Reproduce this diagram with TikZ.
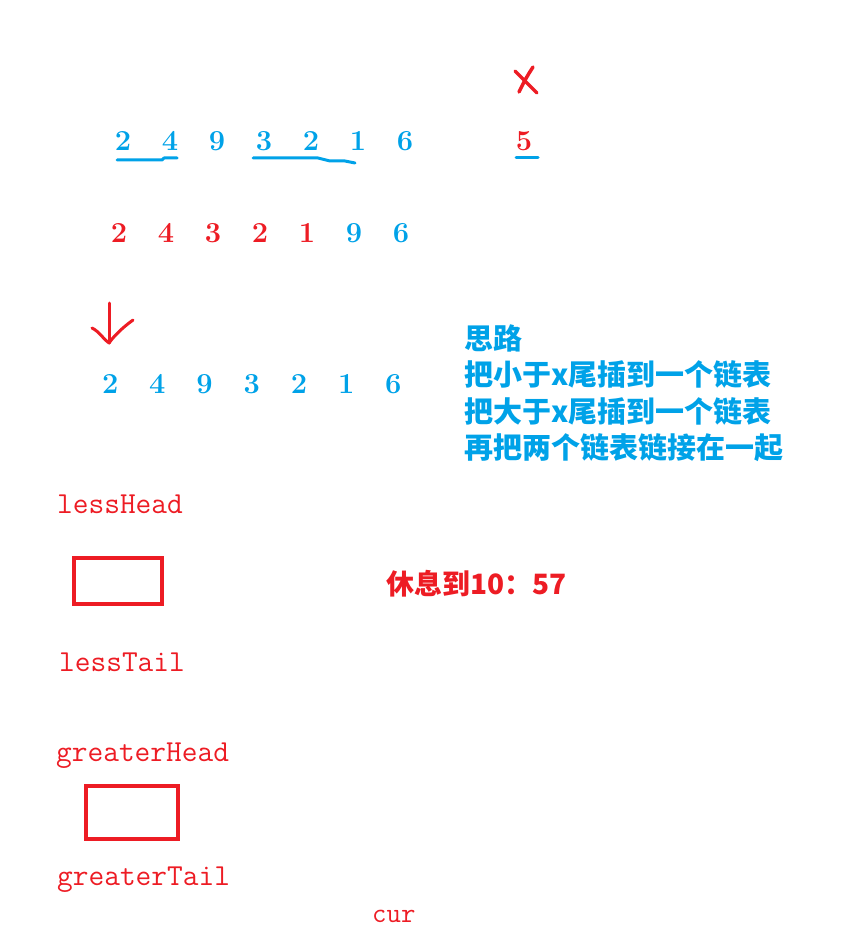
\documentclass[tikz,border=0pt]{standalone}
\usepackage{fontspec}
\newfontfamily\cjk{Noto Sans CJK SC}
\definecolor{pblue}{RGB}{0,162,232}
\definecolor{pred}{RGB}{237,28,36}
\tikzset{
	num/.style={font=\fontsize{29}{30}\selectfont\bfseries, inner sep=0pt},
	ptr/.style={pred, font=\fontsize{30.5}{31}\ttfamily, inner sep=0pt, anchor=base west},
	idea/.style={pblue, font=\fontsize{29}{36}\cjk\bfseries, inner sep=0pt, anchor=west},
	cell/.style={draw=pred, line width=4pt, minimum width=88pt, minimum height=46pt, inner sep=0pt},
	pen/.style={line width=3pt, line cap=round, line join=round}
}
\begin{document}
\begin{tikzpicture}[x=1pt, y=-1pt]
	\useasboundingbox (0,0) rectangle (857,952);
	% row 1: the input list and x
	\foreach \v [count=\i] in {2,4,9,3,2,1,6}
		\node[num,pblue] (a\i) at ({76+47*\i},141) {\v};
	\node[num,pred] (xval) at (524,141) {5};
	\draw[pen,pblue] (117,160) -- (162,160) -- (164,158) -- (177,158);
	\draw[pen,pblue] (253,158) -- (318,158) -- (330,161) -- (345,161) -- (355,163);
	\draw[pen,pblue] (516,158) -- (538,158);
	\draw[pen,pred,line width=3.5pt] (515,71) .. controls (524,80) .. (537,93);
	\draw[pen,pred,line width=3.5pt] (533,67) .. controls (526,78) .. (519,92);
	% row 2: expected result
	\foreach \v/\c [count=\i] in {2/pred,4/pred,3/pred,2/pred,1/pred,9/pblue,6/pblue}
		\node[num,\c] (b\i) at ({72+47*\i},233) {\v};
	% row 3: cur walks the list
	\foreach \v [count=\i] in {2,4,9,3,2,1,6}
		\node[num,pblue] (c\i) at ({63+47.2*\i},384) {\v};
	\coordinate (tip) at (109,343);
	\draw[pen,pred] (109,303) -- (tip);
	\draw[pen,pred] (92,328) .. controls (100,332) and (104,340) .. (tip);
	\draw[pen,pred] (133,320) .. controls (122,328) and (114,336) .. (tip);
	% idea
	\foreach \t [count=\i] in {思路, 把小于x尾插到一个链表, 把大于x尾插到一个链表, 再把两个链表链接在一起}
		\node[idea] (idea\i) at (464,{338+36.5*(\i-1)}) {\t};
	\node[pred, font=\fontsize{28}{30}\cjk\bfseries, inner sep=0pt, anchor=base west] (rest) at (386,594) {休息到10：57};
	% the two lists
	\node[ptr] (lh) at (57,513) {lessHead};
	\node[cell] (lbox) at (118,581) {};
	\node[ptr] (lt) at (59,671) {lessTail};
	\node[ptr] (gh) at (56,761) {greaterHead};
	\node[cell, minimum width=92pt, minimum height=53pt] (gbox) at (132,812.5) {};
	\node[ptr] (gt) at (57,885) {greaterTail};
	\node[ptr, font=\fontsize{28}{28}\ttfamily] (cur) at (372,922) {cur};
\end{tikzpicture}
\end{document}
